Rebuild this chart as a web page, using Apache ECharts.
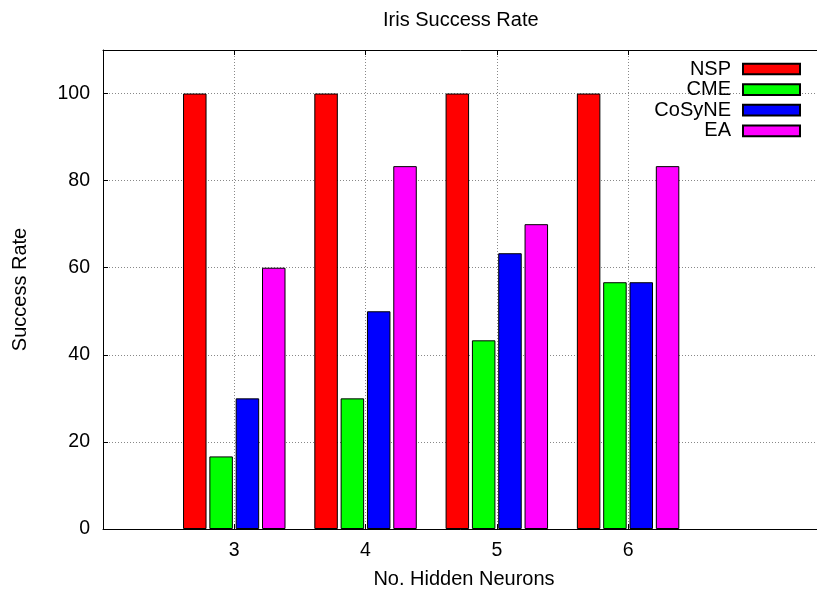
<!DOCTYPE html>
<html>
<head>
<meta charset="utf-8">
<script src="https://cdn.jsdelivr.net/npm/echarts@6/dist/echarts.min.js"></script>
<style>html,body{margin:0;padding:0;background:#fff;}#c{width:817px;height:594px;}</style>
</head>
<body>
<div id="c"></div>
<script>
const categories = [3, 4, 5, 6];
const nsp = [100, 100, 100, 100];
const cme = [16.67, 30, 43.33, 56.67];
const cosyne = [30, 50, 63.33, 56.67];
const ea = [60, 83.33, 70, 83.33];
const yTicks = [0, 20, 40, 60, 80, 100];

const seriesDefs = [
  { name: 'NSP', values: nsp, color: '#ff0000' },
  { name: 'CME', values: cme, color: '#00ff00' },
  { name: 'CoSyNE', values: cosyne, color: '#0000ff' },
  { name: 'EA', values: ea, color: '#ff00ff' }
];

const FONT = 'Liberation Sans';
const chart = echarts.init(document.getElementById('c'), null, { renderer: 'canvas' });

chart.setOption({
  animation: false,
  backgroundColor: '#ffffff',
  title: {
    text: 'Iris Success Rate',
    left: 383, top: 10, padding: 0,
    textStyle: { fontFamily: FONT, fontSize: 20, fontWeight: 'normal', color: '#000' }
  },
  legend: {
    orient: 'vertical',
    right: 16, top: 59, padding: 0,
    align: 'right',
    itemWidth: 57, itemHeight: 10.7, itemGap: 0.6,
    icon: 'rect',
    textStyle: { fontFamily: FONT, fontSize: 20, color: '#000', padding: [0, 7, 0, 0] },
    data: seriesDefs.map(s => s.name)
  },
  grid: { left: 103, top: 50, width: 722, height: 479, containLabel: false, outerBoundsMode: 'none' },
  xAxis: [{
    type: 'value', min: 2, max: 7.5, interval: 1, position: 'bottom',
    name: 'No. Hidden Neurons', nameLocation: 'middle', nameGap: 40,
    nameTextStyle: { fontFamily: FONT, fontSize: 20, color: '#000' },
    axisLine: { show: true, onZero: false, lineStyle: { color: '#000', width: 1 } },
    axisTick: { show: true, inside: true, length: 5, customValues: categories, lineStyle: { color: '#000' } },
    axisLabel: { customValues: categories, margin: 12, fontFamily: FONT, fontSize: 19.5, color: '#000' },
    splitLine: { show: true, lineStyle: { color: '#888', type: [1, 2], width: 1 } }
  }, {
    type: 'value', min: 2, max: 7.5, interval: 1, position: 'top',
    axisLine: { show: true, onZero: false, lineStyle: { color: '#000', width: 1 } },
    axisTick: { show: true, inside: true, length: 5, customValues: categories, lineStyle: { color: '#000' } },
    axisLabel: { show: false },
    splitLine: { show: false }
  }],
  yAxis: {
    type: 'value', min: 0, max: 110, interval: 20,
    name: 'Success Rate', nameLocation: 'middle', nameGap: 73, nameRotate: 90,
    nameTextStyle: { fontFamily: FONT, fontSize: 20, color: '#000' },
    axisLine: { show: true, onZero: false, lineStyle: { color: '#000', width: 1 } },
    axisTick: { show: true, inside: true, length: 5, customValues: yTicks, lineStyle: { color: '#000' } },
    axisLabel: { customValues: yTicks, margin: 13, fontFamily: FONT, fontSize: 19.5, color: '#000' },
    splitLine: { show: true, lineStyle: { color: '#888', type: [1, 2], width: 1 } }
  },
  series: seriesDefs.map(s => ({
    name: s.name,
    type: 'bar',
    xAxisIndex: 0,
    barWidth: 23.5,
    barGap: '12%',
    itemStyle: { color: s.color, borderColor: '#000', borderWidth: 1 },
    data: categories.map((c, i) => [c, s.values[i]])
  }))
});
</script>
</body>
</html>
